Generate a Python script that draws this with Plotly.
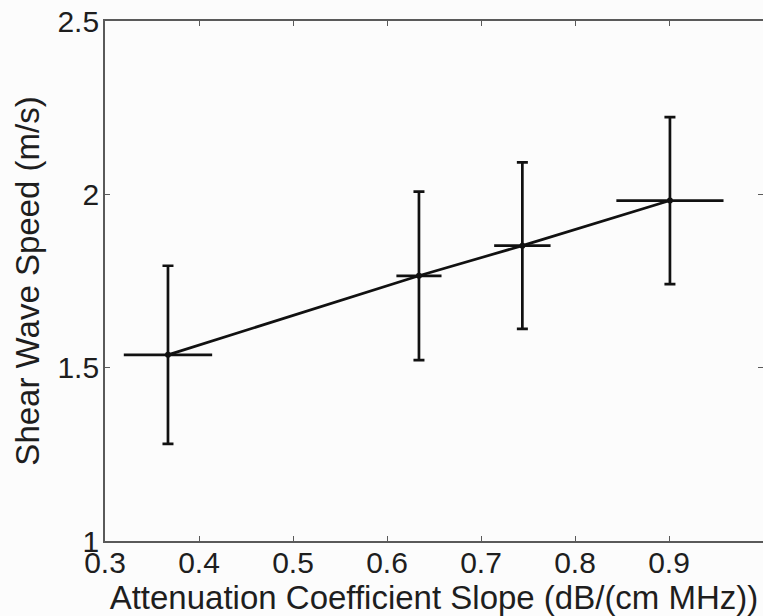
import plotly.graph_objects as go

# Data
atten_slope = [0.367, 0.634, 0.744, 0.901]          # dB/(cm MHz)
atten_slope_err = [0.047, 0.024, 0.030, 0.057]
shear_speed = [1.537, 1.765, 1.852, 1.982]          # m/s
shear_speed_err = [0.257, 0.243, 0.240, 0.241]

x_tick_vals = [0.3, 0.4, 0.5, 0.6, 0.7, 0.8, 0.9]
x_tick_text = ["0.3", "0.4", "0.5", "0.6", "0.7", "0.8", "0.9"]
y_tick_vals = [1, 1.5, 2, 2.5]
y_tick_text = ["1", "1.5", "2", "2.5"]

FONT = "Liberation Sans, Arial, Helvetica, sans-serif"
TEXT = "#1e1e1e"
AXIS = "#5a5a5a"

fig = go.Figure()
fig.add_trace(go.Scatter(
    x=atten_slope, y=shear_speed,
    mode="lines+markers",
    line=dict(color="#111111", width=2.7),
    marker=dict(color="#111111", size=6),
    error_y=dict(type="data", array=shear_speed_err, visible=True,
                 color="#111111", thickness=2.7, width=5.5),
    error_x=dict(type="data", array=atten_slope_err, visible=True,
                 color="#111111", thickness=2.7, width=0),
    showlegend=False,
    hoverinfo="x+y",
))

fig.update_layout(
    width=763, height=616,
    margin=dict(l=105, r=0, t=21, b=75, autoexpand=False),
    paper_bgcolor="#fcfcfc",
    plot_bgcolor="#fcfcfc",
    font=dict(family=FONT, color=TEXT, size=30),
)
fig.update_xaxes(
    range=[0.3, 1.0], automargin=False,
    tickvals=x_tick_vals, ticktext=x_tick_text,
    ticks="inside", ticklen=5, tickwidth=1.2, tickcolor=AXIS,
    showline=True, linecolor=AXIS, linewidth=1.8, mirror="ticks",
    showgrid=False, zeroline=False,
    ticklabelstandoff=-6,
    tickfont=dict(size=30, family=FONT, color=TEXT),
    title=dict(text="Attenuation Coefficient Slope (dB/(cm MHz))",
               font=dict(size=33, family=FONT, color=TEXT), standoff=0),
)
fig.update_yaxes(
    range=[1, 2.5], automargin=False,
    tickvals=y_tick_vals, ticktext=y_tick_text,
    ticks="inside", ticklen=5, tickwidth=1.2, tickcolor=AXIS,
    showline=True, linecolor=AXIS, linewidth=1.8, mirror="ticks",
    showgrid=False, zeroline=False,
    ticklabelstandoff=-2,
    tickfont=dict(size=30, family=FONT, color=TEXT),
    title=dict(text="Shear Wave Speed (m/s)",
               font=dict(size=33, family=FONT, color=TEXT), standoff=8),
)

fig.write_html(
    "out.html",
    config={"displayModeBar": False},
    post_script="document.body.style.margin='0';"
                "document.documentElement.style.overflow='hidden';",
)
